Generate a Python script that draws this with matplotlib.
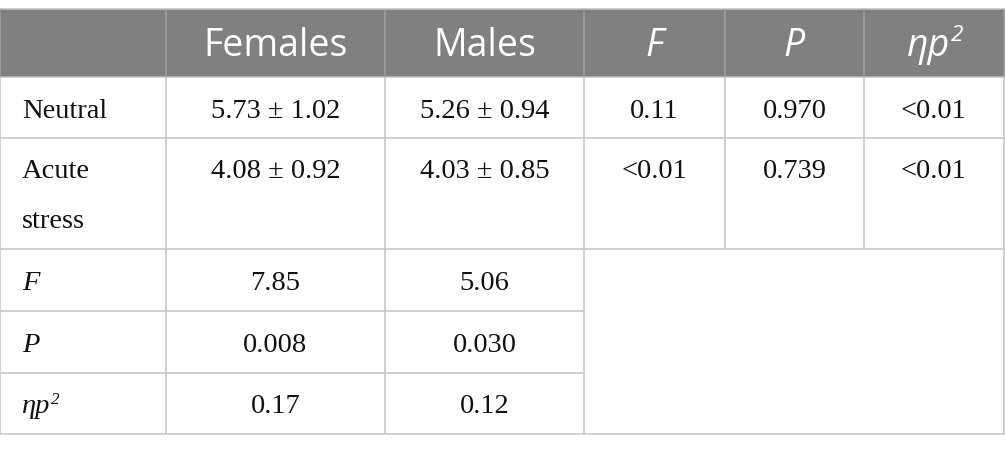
import matplotlib.pyplot as plt
from matplotlib.patches import Rectangle

col_headers = ['', 'Females', 'Males', 'F', 'P', 'ηp']
header_italic = [False, False, False, True, True, True]

row_labels = [['Neutral'], ['Acute', 'stress']]
females = ['5.73 ± 1.02', '4.08 ± 0.92']
males = ['5.26 ± 0.94', '4.03 ± 0.85']
f_values = ['0.11', '<0.01']
p_values = ['0.970', '0.739']
eta_values = ['<0.01', '<0.01']

stat_labels = ['F', 'P', 'ηp']
stat_females = ['7.85', '0.008', '0.17']
stat_males = ['5.06', '0.030', '0.12']

W, H = 1005, 451
col_x = [0, 166, 385, 584, 725, 864, 1004]
row_y = [9, 77, 138, 249, 311, 373, 434]

SANS = 'Open Sans'
SERIF = 'Liberation Serif'
HEAD_COLOR = '#808080'
LINE_COLOR = '#c3c3c3'
TEXT_COLOR = '#111111'
BODY_SIZE = 20.5
HEAD_SIZE = 27

fig = plt.figure(figsize=(W / 100, H / 100), dpi=100)
ax = fig.add_axes([0, 0, 1, 1])
ax.set_xlim(0, W)
ax.set_ylim(H, 0)
ax.axis('off')
renderer = fig.canvas.get_renderer()


def with_sup(x, y, text, size, family, color, italic, ha='center'):
    # text followed by a small superscript "2"
    t = ax.text(x, y, text, fontsize=size, family=family, color=color,
                style='italic' if italic else 'normal', ha=ha, va='center')
    sup_w = size * 0.55 * 0.55 * 1.39
    if ha == 'center':
        t.set_x(x - sup_w / 2)
    bb = t.get_window_extent(renderer)
    x_end = bb.x1
    y_top = H - bb.y1
    ax.text(x_end + 1, y_top + size * 0.3, '2', fontsize=size * 0.6,
            family=family, color=color, style='italic' if italic else 'normal',
            ha='left', va='center')


# header
ax.add_patch(Rectangle((0, row_y[0]), W, row_y[1] - row_y[0],
                       facecolor=HEAD_COLOR, edgecolor='none'))
head_mid = (row_y[0] + row_y[1]) / 2 + 3
for i, label in enumerate(col_headers):
    if not label:
        continue
    cx = (col_x[i] + col_x[i + 1]) / 2
    if label == 'ηp':
        with_sup(cx, head_mid, label, HEAD_SIZE, SANS, 'white', True)
    else:
        ax.text(cx, head_mid, label, fontsize=HEAD_SIZE, family=SANS, color='white',
                style='italic' if header_italic[i] else 'normal',
                ha='center', va='center')

# first two body rows
for r in range(2):
    y0 = row_y[r + 1] + 34
    for k, line in enumerate(row_labels[r]):
        ax.text(22, y0 + k * 50, line, fontsize=BODY_SIZE, family=SERIF,
                ha='left', va='center', color=TEXT_COLOR)
    cells = [females[r], males[r], f_values[r], p_values[r], eta_values[r]]
    for c, val in enumerate(cells):
        cx = (col_x[c + 1] + col_x[c + 2]) / 2
        ax.text(cx, y0, val, fontsize=BODY_SIZE, family=SERIF,
                ha='center', va='center', color=TEXT_COLOR)

# statistics rows
for r in range(3):
    y0 = (row_y[r + 3] + row_y[r + 4]) / 2 + 3
    if stat_labels[r] == 'ηp':
        with_sup(22, y0, stat_labels[r], BODY_SIZE, SERIF, TEXT_COLOR, True, ha='left')
    else:
        ax.text(22, y0, stat_labels[r], fontsize=BODY_SIZE, family=SERIF, style='italic',
                ha='left', va='center', color=TEXT_COLOR)
    for c, val in enumerate([stat_females[r], stat_males[r]]):
        cx = (col_x[c + 1] + col_x[c + 2]) / 2
        ax.text(cx, y0, val, fontsize=BODY_SIZE, family=SERIF,
                ha='center', va='center', color=TEXT_COLOR)

# grid lines
lw = 1.1
for k in (0, 1, 2, 3, 6):
    ax.hlines(row_y[k], 0, W, color=LINE_COLOR, lw=lw)
for k in (4, 5):
    ax.hlines(row_y[k], 0, col_x[3], color=LINE_COLOR, lw=lw)

for i, x in enumerate(col_x):
    ax.vlines(x, row_y[0], row_y[1], color='#a0a0a0', lw=lw)
    if i in (4, 5):
        ax.vlines(x, row_y[1], row_y[3], color=LINE_COLOR, lw=lw)
    else:
        ax.vlines(x, row_y[1], row_y[6], color=LINE_COLOR, lw=lw)

fig.savefig('out.png', dpi=100)
